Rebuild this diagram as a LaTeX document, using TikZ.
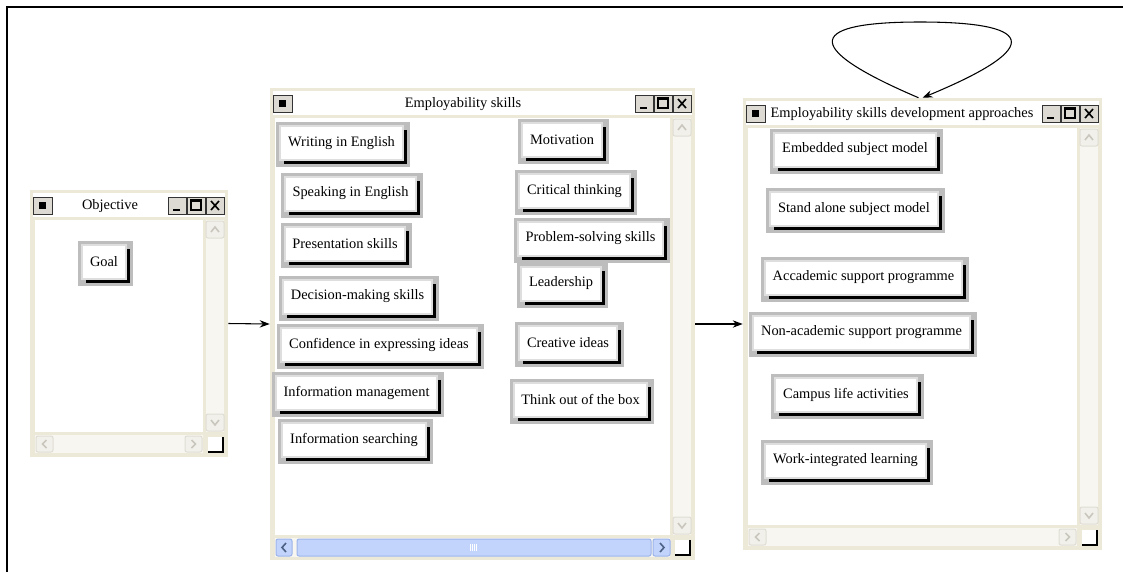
\documentclass[tikz,border=0pt]{standalone}
\usepackage{fontspec}
\setmainfont{Liberation Serif}
\usepackage{tikz}
\usetikzlibrary{arrows.meta,fit}

\definecolor{winbg}{HTML}{ECE9D8}
\definecolor{track}{HTML}{F7F6F1}
\definecolor{sbtnfill}{HTML}{F1F0EA}
\definecolor{sbtnedge}{HTML}{DFDDD3}
\definecolor{chevgrey}{HTML}{C9C7BD}
\definecolor{tbfill}{HTML}{DCDAD2}
\definecolor{btnrim}{HTML}{BDBDBD}
\definecolor{btnhi}{HTML}{DEDEDE}
\definecolor{sbblue}{HTML}{C3D4FC}
\definecolor{sbblueedge}{HTML}{9DB4EA}
\definecolor{chevblue}{HTML}{4D6185}

\begin{document}
\begin{tikzpicture}[x=0.75pt,y=0.75pt,yscale=-1,xscale=1,
    win/.style={fill=winbg, inner sep=0pt},
    wintitle/.style={font=\fontsize{10.8}{12}\selectfont, inner sep=0pt},
    skill/.style={rectangle, fill=white, draw=btnhi, line width=1.5pt,
      inner xsep=5.8pt, inner ysep=0pt, minimum height=25.5pt,
      font=\fontsize{10.8}{12}\selectfont,
      preaction={draw=btnrim, line width=8.25pt, transform canvas={xshift=1.125pt, yshift=-1.125pt}},
      preaction={fill=black, transform canvas={xshift=3pt, yshift=-3pt}}},
    sbtn/.style={fill=sbtnfill, draw=sbtnedge, line width=0.75pt, rounded corners=1.5pt},
    sbblue/.style={fill=sbblue, draw=sbblueedge, line width=0.75pt, rounded corners=1.5pt},
    chev/.style={draw=chevgrey, line width=1.2pt},
    tbtn/.style={fill=tbfill, draw=black!80, line width=0.75pt},
    conn/.style={-{Stealth[length=7.5pt,width=5.5pt]}, line width=0.8pt}]
    \useasboundingbox (0,0) rectangle (1123,572);

    %Frame
    \draw [line width=1.5pt] (7,572) -- (7,7) -- (1123,7) ;

    %Windows
    \node [win, fit={(30,190) (228,457)}] (objective) {};
    \node [win, fit={(270,88) (695,560)}] (skills) {};
    \node [win, fit={(743,98) (1102,550)}] (approaches) {};

    %Window chrome: title row, client area, scroll bars, buttons
    \foreach \xa/\ya/\xb/\yb in {30/190/228/457, 270/88/695/560, 743/98/1102/550}{
      \fill [white] (\xa+3,\ya+3) rectangle (\xb-3,\ya+27) ;
      \fill [white] (\xa+5,\ya+30) rectangle (\xb-25,\yb-25) ;
      \fill [track] (\xb-22,\ya+30) rectangle (\xb-4,\yb-25) ;
      \fill [track] (\xa+5,\yb-22) rectangle (\xb-25,\yb-4) ;
      \draw [sbtn] (\xb-22,\ya+31) rectangle (\xb-4,\ya+48) ;
      \draw [chev] (\xb-17,\ya+42) -- (\xb-13,\ya+37) -- (\xb-9,\ya+42) ;
      \draw [sbtn] (\xb-22,\yb-43) rectangle (\xb-4,\yb-26) ;
      \draw [chev] (\xb-17,\yb-37) -- (\xb-13,\yb-32) -- (\xb-9,\yb-37) ;
      \draw [sbtn] (\xa+6,\yb-21) rectangle (\xa+23,\yb-5) ;
      \draw [chev] (\xa+16.5,\yb-17) -- (\xa+12.5,\yb-13) -- (\xa+16.5,\yb-9) ;
      \draw [sbtn] (\xb-43,\yb-21) rectangle (\xb-26,\yb-5) ;
      \draw [chev] (\xb-36.5,\yb-17) -- (\xb-32.5,\yb-13) -- (\xb-36.5,\yb-9) ;
      \fill [white] (\xb-20,\yb-20) rectangle (\xb-5,\yb-5) ;
      \draw [line width=1.2pt] (\xb-20,\yb-5) -- (\xb-5,\yb-5) -- (\xb-5,\yb-20) ;
      \draw [tbtn] (\xa+3,\ya+7) rectangle (\xa+22,\ya+24) ;
      \fill (\xa+9,\ya+12) rectangle (\xa+16,\ya+19) ;
      \draw [tbtn] (\xb-60,\ya+7) rectangle (\xb-42,\ya+24) ;
      \draw [line width=1.5pt] (\xb-55,\ya+20) -- (\xb-48,\ya+20) ;
      \draw [tbtn] (\xb-41,\ya+7) rectangle (\xb-23,\ya+24) ;
      \draw [line width=0.9pt] (\xb-37,\ya+10) rectangle (\xb-27,\ya+20) ;
      \draw [line width=1.5pt] (\xb-37,\ya+11) -- (\xb-27,\ya+11) ;
      \draw [tbtn] (\xb-22,\ya+7) rectangle (\xb-4,\ya+24) ;
      \draw [line width=1.2pt] (\xb-17,\ya+11) -- (\xb-9,\ya+20) (\xb-17,\ya+20) -- (\xb-9,\ya+11) ;
    }

    %Active horizontal scroll bar
    \fill [track] (275,538) rectangle (670,557) ;
    \draw [sbblue] (276,539) rectangle (292,556) ;
    \draw [sbblue] (297,539) rectangle (651,556) ;
    \draw [sbblue] (653,539) rectangle (670,556) ;
    \draw [chevblue, line width=1.2pt] (286,543) -- (282,547.5) -- (286,552) ;
    \draw [chevblue, line width=1.2pt] (660,543) -- (664,547.5) -- (660,552) ;
    \draw [white, line width=0.6pt] (470,544) -- (470,551) (472,544) -- (472,551) (474,544) -- (474,551) (476,544) -- (476,551) ;

    % Text Node
    \node [wintitle] (objtitle) at (110,206) {Objective};
    % Text Node
    \node [wintitle] (skilltitle) at (463,104) {Employability skills};
    % Text Node
    \node [wintitle] (apprtitle) at (902,114) {Employability skills development approaches};

    %Objective
    \node [skill] (goal) at (104,261.5) {Goal};

    %Employability skills
    \node [skill] (writing) at (341.5,143) {Writing in English};
    \node [skill] (speaking) at (350.5,193.5) {Speaking in English};
    \node [skill] (presenting) at (345,244) {Presentation skills};
    \node [skill] (deciding) at (357.5,296.5) {Decision-making skills};
    \node [skill] (confidence) at (379,345) {Confidence in expressing ideas};
    \node [skill] (infomgmt) at (356.5,393) {Information management};
    \node [skill] (infosearch) at (354,439.5) {Information searching};
    \node [skill] (motivation) at (562,140) {Motivation};
    \node [skill] (critical) at (574.5,191) {Critical thinking};
    \node [skill] (problem) at (590.5,238.5) {Problem-solving skills};
    \node [skill] (leadership) at (561,283.5) {Leadership};
    \node [skill] (creative) at (568,343) {Creative ideas};
    \node [skill] (thinkout) at (580.5,399.5) {Think out of the box};

    %Development approaches
    \node [skill] (embedded) at (855,149.5) {Embedded subject model};
    \node [skill] (standalone) at (854,209) {Stand alone subject model};
    \node [skill] (academic) at (863.5,277.5) {Accademic support programme};
    \node [skill] (nonacademic) at (861.5,332.5) {Non-academic support programme};
    \node [skill] (campus) at (846,395) {Campus life activities};
    \node [skill] (workint) at (845.5,460.5) {Work-integrated learning};

    %Connectors
    \draw [conn] (objective.east) -- (skills.west) ;
    \draw [conn] (skills.east) -- (approaches.west) ;
    \draw [conn] ([xshift=-3pt]approaches.north) .. controls (795,45) and (812,22) .. (920,22) .. controls (1030,22) and (1050,45) .. (approaches.north) ;
\end{tikzpicture}
\end{document}
